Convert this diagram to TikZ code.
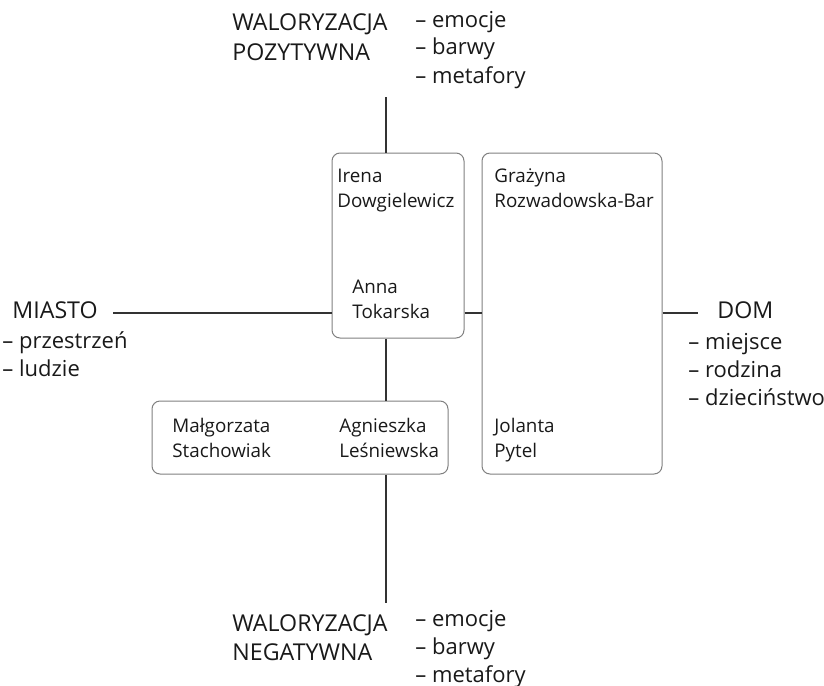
\documentclass[tikz,border=0pt]{standalone}
\usepackage{fontspec}
\setmainfont{Open Sans}

\tikzset{
  link/.style={draw=black!80, line width=0.6pt},
  card/.style={draw=black!50, line width=0.5pt, rounded corners=4pt, inner sep=0pt},
  outer/.style={anchor=base west, inner sep=0pt, text=black!90, align=left,
                font=\fontsize{11.6}{14}\selectfont},
  list/.style={outer, font=\fontsize{11}{14}\selectfont},
  inner/.style={anchor=base west, inner sep=0pt, text=black!90, align=left,
                font=\fontsize{9.4}{12.5}\selectfont},
}

\begin{document}
\begin{tikzpicture}[x=0.5pt, y=-0.5pt]
\useasboundingbox (0,0) rectangle (824,685);

% boxes
\node[card, minimum width=66pt, minimum height=92.5pt]  (itbox) at (398,245.5) {};
\node[card, minimum width=90pt, minimum height=160.5pt] (gjbox) at (572,313.5) {};
\node[card, minimum width=148pt, minimum height=36.5pt] (msbox) at (300,437.5) {};

% names in boxes (placed by the baseline of the last line)
\node[inner] (irena)  at (337,207) {Irena\\Dowgielewicz};
\node[inner] (anna)   at (352,318) {Anna\\Tokarska};
\node[inner] (grazyna) at (494,207) {Grażyna\\Rozwadowska-Bar};
\node[inner] (jolanta) at (494,457) {Jolanta\\Pytel};
\node[inner] (malgorzata) at (172,457) {Małgorzata\\Stachowiak};
\node[inner] (agnieszka)  at (339,457) {Agnieszka\\Leśniewska};

% poles
\node[outer] (pozyt) at (232,60) {WALORYZACJA\\[0.5pt]POZYTYWNA};
\node[list] (pozytlist) at (415,83) {– emocje\\– barwy\\– metafory};
\node[outer] (negat) at (232,660) {WALORYZACJA\\[0.5pt]NEGATYWNA};
\node[list] (negatlist) at (415,682) {– emocje\\– barwy\\– metafory};
\node[outer] (miasto) at (12,318) {MIASTO};
\node[list] (miastolist) at (2,376) {– przestrzeń\\– ludzie};
\node[outer] (dom) at (717,318) {DOM};
\node[list] (domlist) at (688,405) {– miejsce\\– rodzina\\– dzieciństwo};

% axes
\coordinate (ptop) at (386,97);
\coordinate (pbot) at (386,603);
\coordinate (mend) at (113,313);
\coordinate (dend) at (698,313);
\draw[link] (ptop) -- (ptop |- itbox.north);
\draw[link] (itbox.south -| ptop) -- (msbox.north -| ptop);
\draw[link] (msbox.south -| ptop) -- (pbot);
\draw[link] (mend) -- (mend -| itbox.west);
\draw[link] (itbox.east |- mend) -- (gjbox.west |- mend);
\draw[link] (gjbox.east |- mend) -- (dend);
\end{tikzpicture}
\end{document}
